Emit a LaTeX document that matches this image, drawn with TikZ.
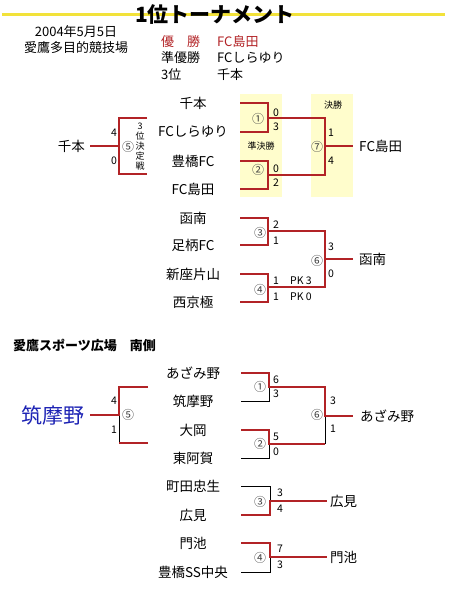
\documentclass[tikz,border=0pt]{standalone}
\usepackage{fontspec}
\setmainfont{Noto Sans CJK JP}
\usetikzlibrary{positioning}
\definecolor{TmRed}{HTML}{B22326}
\definecolor{TmYellow}{HTML}{F2E23A}
\definecolor{TmBand}{HTML}{FFFDCC}
\definecolor{TmBlue}{HTML}{1C22B4}

\begin{document}
\begin{tikzpicture}[x=1pt, y=-1pt,
  team/.style={font=\fontsize{13.5}{13.5}\selectfont, inner sep=0pt},
  info/.style={font=\fontsize{13}{13}\selectfont, inner sep=0pt},
  score/.style={font=\fontsize{10.5}{11}\selectfont, inner sep=0pt, anchor=west},
  circ/.style={font=\fontsize{12}{12}\selectfont, inner sep=0pt, text=black!75},
  tag/.style={font=\fontsize{9}{10}\selectfont, inner sep=0pt},
  win/.style={draw=TmRed, line width=2.5pt},
  lose/.style={draw=black, line width=0.8pt}]
\useasboundingbox (0,0) rectangle (450,600);

% Title and yellow rule
\coordinate (ruleL) at (2,14);
\coordinate (ruleR) at (445,14);
\draw[TmYellow, line width=3pt] (ruleL) -- (ruleR);
\node[font=\fontsize{21}{21}\selectfont\bfseries, inner sep=0pt] (title) at (215,15) {1位トーナメント};

% Date, venue and results
\node[info] (date) at (76,32) {2004年5月5日};
\node[info] (venueA) at (76,48) {愛鷹多目的競技場};
\foreach \n/\y/\rank/\who/\col in {1/42/優　勝/FC島田/TmRed, 2/58/準優勝/FCしらゆり/black, 3/75/3位/千本/black}
{
  \node[info, anchor=west, text=\col] (rank\n) at (161,\y) {\rank};
  \node[info, anchor=west, text=\col] (who\n) at (217,\y) {\who};
}

% Highlight bands
\fill[TmBand] (240,94) rectangle (282,197);
\fill[TmBand] (311,94) rectangle (353,197);
\node[tag] (lblF) at (333,105) {決勝};
\node[tag] (lblS) at (261,146) {準決勝};

% Teams, first ground
\foreach \n/\y/\name in {1/103/千本, 2/132/FCしらゆり, 3/161/豊橋FC, 4/189/FC島田,
  5/218/函南, 6/245/足柄FC, 7/274/新座片山, 8/302/西京極}
{
  \node[team] (a\n) at (193,\y) {\name};
  \coordinate (sa\n) at (240,\y);
}

% Junctions
\coordinate (ja1) at (268,118);
\coordinate (ja2) at (268,175);
\coordinate (ja7) at (325,146);
\coordinate (ea7) at (353,146);
\coordinate (ja3) at (268,231);
\coordinate (ja4) at (268,287);
\coordinate (ja6) at (325,259);
\coordinate (ea6) at (353,259);
\coordinate (ja5) at (119,146);
\coordinate (ea5) at (90,146);
\coordinate (ta) at (147,118);
\coordinate (tb) at (147,174);

% Semi-finals and final
\draw[win] (sa1) -- (sa1 -| ja1) -- (sa2 -| ja1) -- (sa2);
\draw[win] (sa3) -- (sa3 -| ja2) -- (sa4 -| ja2) -- (sa4);
\draw[win] (ja1) -- (ja1 -| ja7) -- (ja2 -| ja7) -- (ja2);
\draw[win] (ja7) -- (ea7);
\node[team, right=6pt of ea7] (wa7) {FC島田};

% Third place
\draw[win] (ta) -- (ta -| ja5) -- (tb -| ja5) -- (tb);
\draw[win] (ja5) -- (ea5);
\node[team, left=5pt of ea5] (wa5) {千本};
\node[tag, align=center, font=\fontsize{9}{10}\selectfont] (lbl3) at (140,147) {3\\位\\決\\定\\戦};

% Lower bracket, first ground
\draw[win] (sa5) -- (sa5 -| ja3) -- (sa6 -| ja3) -- (sa6);
\draw[win] (sa7) -- (sa7 -| ja4) -- (sa8 -| ja4) -- (sa8);
\draw[win] (ja3) -- (ja3 -| ja6) -- (ja4 -| ja6) -- (ja4);
\draw[win] (ja6) -- (ea6);
\node[team, right=6pt of ea6] (wa6) {函南};

% Second ground
\node[info, anchor=west, font=\fontsize{13}{13}\selectfont\bfseries] (venueB) at (13,345) {愛鷹スポーツ広場　南側};
\foreach \n/\y/\name in {1/373/あざみ野, 2/401/筑摩野, 3/430/大岡, 4/458/東阿賀,
  5/486/町田忠生, 6/515/広見, 7/543/門池, 8/572/豊橋SS中央}
{
  \node[team] (b\n) at (193,\y) {\name};
  \coordinate (sb\n) at (241,\y);
}
\coordinate (jb1) at (269,387);
\coordinate (jb2) at (269,444);
\coordinate (jb6) at (325,416);
\coordinate (eb6) at (353,416);
\coordinate (jb3) at (270,501);
\coordinate (eb3) at (327,501);
\coordinate (jb4) at (270,557);
\coordinate (eb4) at (327,557);
\coordinate (jb5) at (119,415);
\coordinate (eb5) at (90,415);
\coordinate (tc) at (148,387);
\coordinate (td) at (148,443);

% Losers first, winners on top
\draw[lose] (sb2) -- (sb2 -| jb1) -- (jb1);
\draw[lose] (sb4) -- (sb4 -| jb2) -- (jb2);
\draw[lose] (jb2 -| jb6) -- (jb6);
\draw[lose] (sb5) -- (sb5 -| jb3) -- (jb3);
\draw[lose] (sb8) -- (sb8 -| jb4) -- (jb4);
\draw[lose] (td -| jb5) -- (jb5);
\draw[win] (sb1) -- (sb1 -| jb1) -- (jb1) -- (jb1 -| jb6) -- (jb6) -- (eb6);
\draw[win] (sb3) -- (sb3 -| jb2) -- (jb2) -- (jb2 -| jb6);
\draw[win] (sb6) -- (sb6 -| jb3) -- (jb3) -- (eb3);
\draw[win] (sb7) -- (sb7 -| jb4) -- (jb4) -- (eb4);
\draw[win] (tc) -- (tc -| jb5) -- (jb5) -- (eb5);
\draw[win] (td) -- (td -| jb5);
\node[team, right=7pt of eb6] (wb6) {あざみ野};
\node[team, right=3pt of eb3] (wb3) {広見};
\node[team, right=3pt of eb4] (wb4) {門池};
\node[team, left=5pt of eb5, text=TmBlue, font=\fontsize{21}{21}\selectfont] (wb5) {筑摩野};

% Match numbers
\foreach \x/\y/\m [count=\i] in {258/119/①, 258/170/②, 317/147/⑦, 128/147/⑤, 260/233/③, 260/290/④, 317/261/⑥,
  260/387/①, 260/444/②, 317/415/⑥, 128/415/⑤, 260/502/③, 260/558/④}
  \node[circ] (mt\i) at (\x,\y) {\m};

% Scores
\foreach \x/\y/\s [count=\i] in {273/113/0, 273/127/3, 273/169/0, 273/183/2, 328/133/1, 328/161/4,
  111/133/4, 111/161/0, 273/225/2, 273/241/1, 273/281/1, 273/297/1, 328/247/3, 328/274/0,
  290/281/PK 3, 290/297/PK 0,
  273/380/6, 273/394/3, 273/437/5, 273/452/0, 330/401/3, 330/429/1, 111/401/4, 111/430/1,
  277/493/3, 277/509/4, 277/549/7, 277/565/3}
  \node[score] (sc\i) at (\x,\y) {\s};
\end{tikzpicture}
\end{document}
